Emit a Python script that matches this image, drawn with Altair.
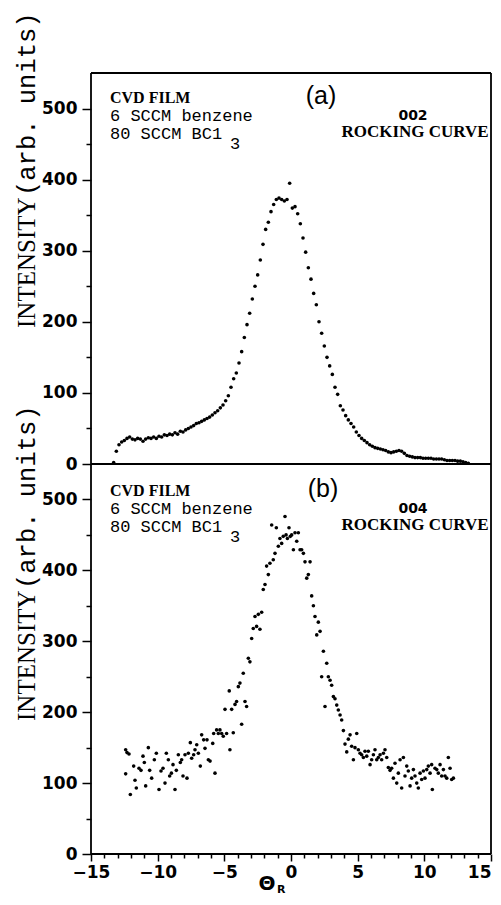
import altair as alt
import pandas as pd

# ---------------- data ----------------
THETA_A = [-13.3, -13.1, -12.9, -12.7, -12.5, -12.3, -12.1, -11.9, -11.7, -11.5,
           -11.3, -11.1, -10.9, -10.7, -10.5, -10.3, -10.1, -9.9, -9.7, -9.5,
           -9.3, -9.1, -8.9, -8.7, -8.5, -8.3, -8.1, -7.9, -7.7, -7.5,
           -7.3, -7.1, -6.9, -6.7, -6.5, -6.3, -6.1, -5.9, -5.7, -5.5,
           -5.3, -5.1, -4.9, -4.7, -4.5, -4.3, -4.1, -3.9, -3.7, -3.5,
           -3.3, -3.1, -2.9, -2.7, -2.5, -2.3, -2.1, -1.9, -1.7, -1.5,
           -1.3, -1.1, -0.9, -0.7, -0.5, -0.3, -0.1,
           0.1, 0.3, 0.5, 0.7, 0.9, 1.1, 1.3, 1.5, 1.7, 1.9,
           2.1, 2.3, 2.5, 2.7, 2.9, 3.1, 3.3, 3.5, 3.7, 3.9,
           4.1, 4.3, 4.5, 4.7, 4.9, 5.1, 5.3, 5.5, 5.7, 5.9,
           6.1, 6.3, 6.5, 6.7, 6.9, 7.1, 7.3, 7.5, 7.7, 7.9,
           8.1, 8.3, 8.5, 8.7, 8.9, 9.1, 9.3, 9.5, 9.7, 9.9,
           10.1, 10.3, 10.5, 10.7, 10.9, 11.1, 11.3, 11.5, 11.7, 11.9,
           12.1, 12.3, 12.5, 12.7, 12.9, 13.1, 13.3]
INT_A = [2, 18, 27, 31, 33, 36, 38, 35, 34, 36,
         35, 32, 35, 37, 36, 38, 36, 39, 38, 41,
         40, 42, 41, 44, 42, 46, 45, 48, 50, 52,
         54, 57, 58, 60, 62, 64, 66, 69, 72, 75,
         79, 83, 89, 96, 108, 120, 128, 142, 158, 178,
         196, 212, 232, 250, 266, 287, 309, 330, 340, 355,
         365, 372, 374, 372, 370, 372, 395,
         360, 362, 352, 338, 318, 298, 276, 260, 240, 224,
         200, 184, 166, 150, 138, 126, 108, 98, 82, 76,
         68, 62, 57, 52, 45, 40, 36, 33, 30, 27,
         25, 23, 22, 21, 20, 19, 17, 16, 17, 18,
         19, 18, 15, 12, 11, 10, 9, 9, 9, 8,
         8, 8, 8, 7, 7, 7, 7, 6, 5, 5,
         5, 5, 4, 4, 3, 2, 1]

THETA_B = [-12.4, -12.3, -12.15, -12.05, -12.4, -11.8, -11.7, -11.6, -11.4, -11.25,
           -11.1, -11.0, -10.9, -10.7, -10.6, -10.45, -10.25, -10.1, -9.9, -9.75,
           -9.6, -9.45, -9.35, -9.2, -9.1, -8.97, -8.85, -8.7, -8.6, -8.45,
           -8.3, -8.2, -8.1, -7.95, -7.8, -7.7, -7.55, -7.45, -7.3, -7.2,
           -7.07, -6.95, -6.8, -6.7, -6.55, -6.45, -6.3, -6.2, -6.07, -5.87,
           -5.8, -5.7, -5.58, -5.45, -5.33, -5.2, -5.08, -4.95, -4.83, -4.63,
           -4.58, -4.45, -4.33, -4.2, -4.08, -3.95, -3.83, -3.7, -3.58, -3.45,
           -3.33, -3.2, -3.08, -2.95, -2.83, -2.7, -2.58, -2.45, -2.33, -2.2,
           -2.08, -1.95, -1.83, -1.7, -1.58, -1.45, -1.33, -1.2, -1.1, -0.95,
           -0.83, -0.7, -0.58, -0.45, -0.37, -0.27, -0.15, -0.05, 0.05, 0.18,
           0.3, 0.43, 0.55, 0.68, 0.8, 0.93, 1.05, 1.18, 1.3, 1.43,
           1.55, 1.68, 1.8, 1.93, 2.05, 2.18, 2.3, 2.43, 2.55, 2.68,
           2.8, 2.93, 3.05, 3.18, 3.3, 3.43, 3.55, 3.68, 3.8, 3.93,
           4.05, 4.18, 4.3, 4.43, 4.55, 4.68, 4.8, 4.93, 5.05, 5.18,
           5.3, 5.43, 5.55, 5.68, 5.8, 5.93, 6.05, 6.18, 6.3, 6.43,
           6.55, 6.68, 6.8, 6.93, 7.05, 7.18, 7.3, 7.43, 7.55, 7.68,
           7.8, 7.93, 8.05, 8.18, 8.3, 8.43, 8.55, 8.68, 8.8, 8.93,
           9.05, 9.18, 9.3, 9.43, 9.55, 9.68, 9.8, 9.93, 10.05, 10.18,
           10.3, 10.43, 10.55, 10.6, 10.8, 10.93, 11.05, 11.18, 11.3, 11.43,
           11.55, 11.68, 11.8, 11.93, 12.05, 12.18]
INT_B = [147, 143, 141, 84, 113, 124, 104, 93, 121, 118,
         138, 129, 96, 150, 118, 107, 133, 142, 91, 117,
         121, 100, 142, 133, 110, 114, 126, 91, 118, 140,
         129, 133, 110, 140, 107, 142, 157, 135, 140, 147,
         154, 142, 124, 168, 161, 149, 161, 133, 131, 156,
         170, 114, 175, 170, 175, 170, 166, 204, 170, 230,
         147, 204, 171, 211, 215, 236, 241, 183, 255, 215,
         208, 276, 271, 304, 318, 335, 321, 338, 317, 341,
         373, 380, 406, 394, 410, 464, 415, 424, 460, 434,
         445, 438, 448, 476, 450, 445, 460, 448, 450, 429,
         453, 441, 453, 429, 429, 424, 412, 389, 394, 412,
         364, 350, 335, 309, 327, 314, 250, 286, 208, 269,
         250, 245, 238, 222, 219, 210, 203, 196, 189, 174,
         155, 144, 162, 168, 152, 133, 150, 170, 147, 142,
         140, 136, 145, 138, 145, 126, 133, 140, 147, 133,
         136, 140, 133, 142, 147, 136, 122, 118, 121, 107,
         128, 100, 114, 133, 93, 136, 110, 124, 117, 96,
         107, 119, 110, 100, 93, 114, 105, 117, 107, 119,
         124, 114, 126, 91, 121, 119, 114, 126, 110, 119,
         110, 107, 136, 121, 105, 107]

X_DOMAIN = [-15, 15]
Y_DOMAIN = [0, 550]
X_TICKS = list(range(-15, 16))
Y_TICKS = list(range(0, 501, 50))

W = 400
H_TOP = 391
H_BOT = 390
H = H_TOP + H_BOT
LW = 1.8


def txt(s, x, y, font, size, weight="normal", align="left", angle=0):
    return alt.Chart(alt.Data(values=[{"t": s}])).mark_text(
        font=font, fontSize=size, fontWeight=weight, align=align,
        baseline="alphabetic", angle=angle, color="black"
    ).encode(x=alt.value(x), y=alt.value(y), text="t:N")


def y_axis():
    return alt.Axis(
        values=Y_TICKS, title=None, grid=False, orient="left", domain=False,
        labelExpr="datum.value % 100 === 0 ? datum.label : ''",
        tickSize={"condition": {"test": "datum.value % 100 === 0", "value": 9}, "value": 5},
        tickColor="black", tickWidth=1.5, labelPadding=5,
        labelFont="DejaVu Sans", labelFontWeight="bold", labelFontSize=17,
        labelColor="black", labelOverlap=False,
    )


x_axis = alt.Axis(
    values=X_TICKS, title=None, grid=False, orient="bottom", domain=False,
    labelExpr="datum.value % 5 === 0 ? datum.label : ''",
    tickSize={"condition": {"test": "datum.value % 5 === 0", "value": 7}, "value": 4},
    labelAlign={"condition": {"test": "datum.value === 15", "value": "right"}, "value": "center"},
    tickColor="black", tickWidth=1.5, labelPadding=3, labelFlush=False,
    labelFont="DejaVu Sans", labelFontWeight="bold", labelFontSize=17,
    labelColor="black", labelOverlap=False,
)

x_scale = alt.Scale(domain=X_DOMAIN, nice=False, zero=False)
x_enc = alt.X("theta:Q", scale=x_scale, axis=x_axis)
top_scale = alt.Scale(domain=Y_DOMAIN, range=[H_TOP, 0], nice=False, zero=False)
bot_scale = alt.Scale(domain=Y_DOMAIN, range=[H, H_TOP], nice=False, zero=False)

df_a = pd.DataFrame({"theta": THETA_A, "intensity": INT_A})
df_b = pd.DataFrame({"theta": THETA_B, "intensity": INT_B})

EDGE = dict(color="black", strokeWidth=LW)

# top panel: points + its zero line (shared border) + top edge of the box
top_pts = alt.Chart(df_a).mark_circle(size=13, color="black", opacity=1).encode(
    x=x_enc, y=alt.Y("intensity:Q", scale=top_scale, axis=y_axis()))
top_edges = alt.Chart(alt.Data(values=[{"intensity": 0}, {"intensity": 550}])).mark_rule(
    **EDGE).encode(y=alt.Y("intensity:Q", scale=top_scale, axis=y_axis()))
top = alt.layer(top_pts, top_edges)

# bottom panel: points + bottom edge of the box
bot_pts = alt.Chart(df_b).mark_circle(size=13, color="black", opacity=1).encode(
    x=x_enc, y=alt.Y("intensity:Q", scale=bot_scale, axis=y_axis()))
bot_edge = alt.Chart(alt.Data(values=[{"intensity": 0}])).mark_rule(**EDGE).encode(
    y=alt.Y("intensity:Q", scale=bot_scale, axis=y_axis()))
bot = alt.layer(bot_pts, bot_edge)

# left and right edges of the box
side_edges = alt.Chart(alt.Data(values=[{"theta": -15}, {"theta": 15}])).mark_rule(
    **EDGE).encode(x=x_enc)

texts = []
for tag, refl, oy, dy in (("(a)", "002", 0, 0), ("(b)", "004", H_TOP, 2)):
    start = 255 + oy + dy
    texts += [
        txt("INTENSITY", -56, start, "Liberation Serif", 25, angle=270),
        txt("(arb. units)", -56, start - 132, "Liberation Mono", 25.5, angle=270),
        txt("CVD FILM", 19, 30 + oy + dy, "Liberation Serif", 16, weight="bold"),
        txt("6 SCCM benzene", 19, 48 + oy + dy, "Liberation Mono", 17),
        txt("80 SCCM BC1", 19, 66 + oy + dy, "Liberation Mono", 17),
        txt("3", 139, 76 + oy + dy, "Liberation Mono", 17),
        txt(tag, 230 + dy, 31 + oy + dy, "Liberation Sans", 25, align="center"),
        txt(refl, 322, 47 + oy + dy, "DejaVu Sans", 14, weight="bold", align="center"),
        txt("ROCKING CURVE", 324, 64 + oy + dy, "Liberation Serif", 17,
            weight="bold", align="center"),
    ]
texts += [
    txt("Θ", 176, 817, "DejaVu Sans", 20, weight="bold", align="center"),
    txt("R", 186, 820, "DejaVu Sans", 11, weight="bold"),
]

chart = alt.layer(top, bot, side_edges, *texts).resolve_scale(y="independent").properties(
    width=W, height=H,
    autosize=alt.AutoSizeParams(type="none"),
    padding={"left": 83, "top": 65, "right": 2, "bottom": 41},
).configure_view(stroke=None)

chart.save("out.html", embed_options={"renderer": "svg", "actions": False})
